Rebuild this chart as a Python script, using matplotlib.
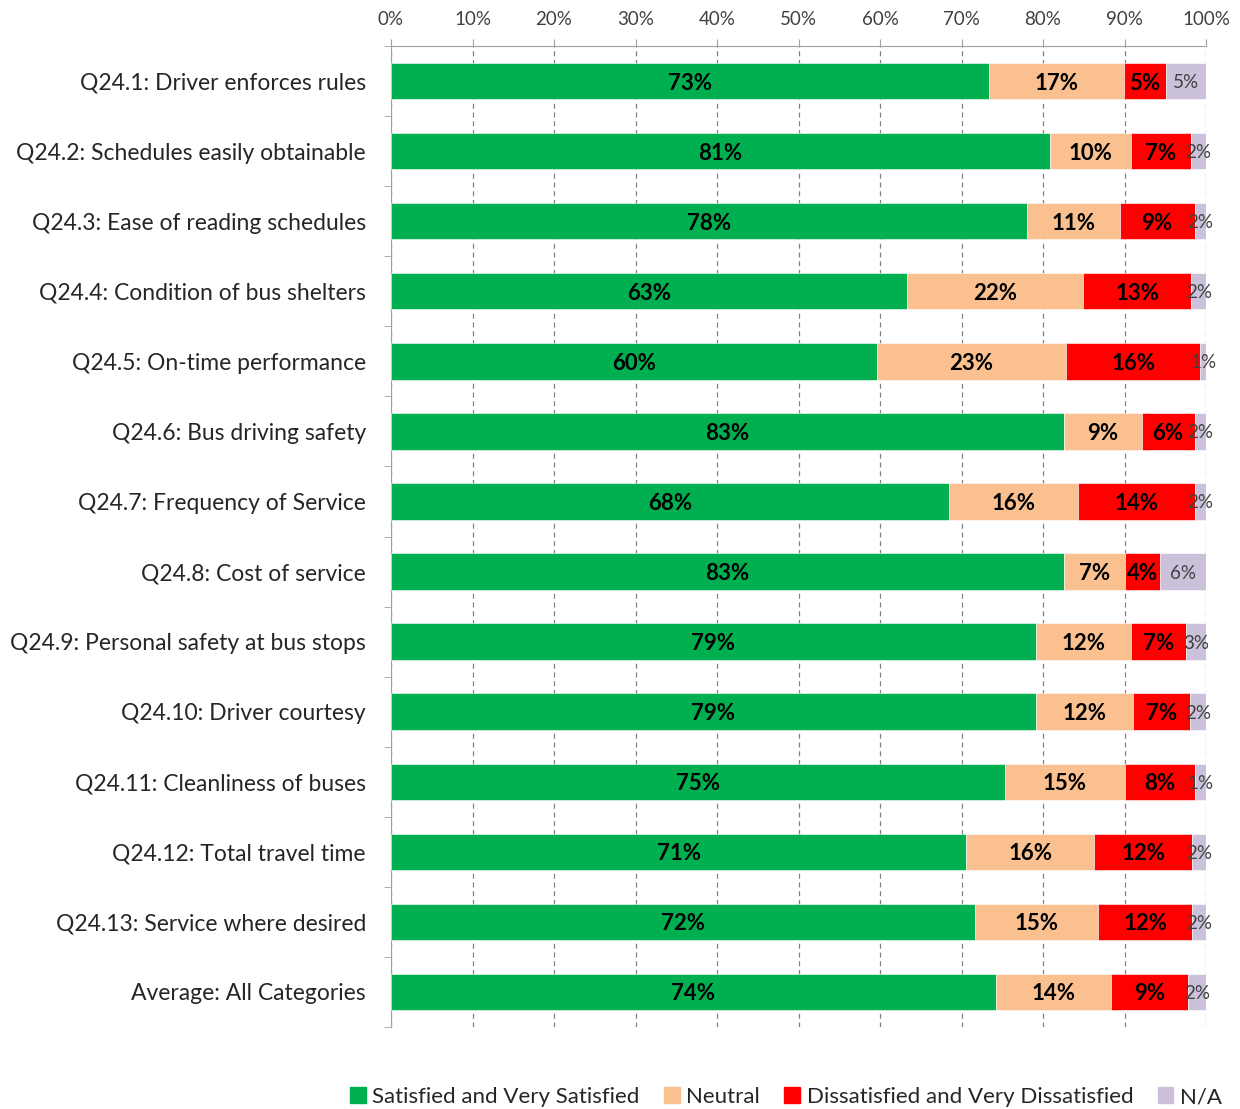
import numpy as np
import matplotlib
matplotlib.use("Agg")
import matplotlib.pyplot as plt
from matplotlib.ticker import MultipleLocator, FixedLocator, PercentFormatter
from matplotlib.patches import Patch

plt.rcParams['font.family'] = ['Lato', 'DejaVu Sans']

"""資料"""
categories = [
    "Q24.1: Driver enforces rules",
    "Q24.2: Schedules easily obtainable",
    "Q24.3: Ease of reading schedules",
    "Q24.4: Condition of bus shelters",
    "Q24.5: On-time performance",
    "Q24.6: Bus driving safety",
    "Q24.7: Frequency of Service",
    "Q24.8: Cost of service",
    "Q24.9: Personal safety at bus stops",
    "Q24.10: Driver courtesy",
    "Q24.11: Cleanliness of buses",
    "Q24.12: Total travel time",
    "Q24.13: Service where desired",
    "Average: All Categories",
]
series_names = ["Satisfied and Very Satisfied", "Neutral",
                "Dissatisfied and Very Dissatisfied", "N/A"]

# bar lengths (%)
satisfied    = [73.4, 80.9, 78.0, 63.3, 59.6, 82.6, 68.5, 82.6, 79.1, 79.1, 75.3, 70.6, 71.7, 74.2]
neutral      = [16.5,  9.9, 11.4, 21.6, 23.2,  9.5, 15.8,  7.5, 11.7, 11.9, 14.8, 15.7, 15.1, 14.2]
dissatisfied = [ 5.2,  7.3,  9.2, 13.3, 16.5,  6.5, 14.3,  4.2,  6.8,  7.0,  8.5, 12.0, 11.5,  9.4]
not_app      = [ 4.9,  1.9,  1.4,  1.8,  0.7,  1.4,  1.4,  5.7,  2.4,  2.0,  1.4,  1.7,  1.7,  2.2]

# printed labels
lab_satisfied    = [73, 81, 78, 63, 60, 83, 68, 83, 79, 79, 75, 71, 72, 74]
lab_neutral      = [17, 10, 11, 22, 23, 9, 16, 7, 12, 12, 15, 16, 15, 14]
lab_dissatisfied = [5, 7, 9, 13, 16, 6, 14, 4, 7, 7, 8, 12, 12, 9]
lab_na           = [5, 2, 2, 2, 1, 2, 2, 6, 3, 2, 1, 2, 2, 2]

colors = ['#00B050', '#FAC090', '#FF0000', '#CCC1DA']

fig = plt.figure(figsize=(12.4, 11.09), dpi=100)
ax = fig.add_axes([391/1240, 1 - 1027/1109, (1206-391)/1240, (1027-46)/1109])

y = np.arange(len(categories))
data = [satisfied, neutral, dissatisfied, not_app]
labels = [lab_satisfied, lab_neutral, lab_dissatisfied, lab_na]
left = np.zeros(len(categories))
for i, (vals, labs) in enumerate(zip(data, labels)):
    vals = np.array(vals)
    ax.barh(y, vals, left=left, height=0.52, color=colors[i],
            edgecolor='white', linewidth=0.4, zorder=3)
    for yy, l, v, t in zip(y, left, vals, labs):
        if i < 3:
            ax.text(l + v/2, yy, f"{t}%", ha='center', va='center_baseline',
                    fontsize=16, fontweight='bold', color='black', zorder=4)
        else:
            ax.text(l + v/2, yy, f"{t}%", ha='center', va='center_baseline',
                    fontsize=13.5, color='#404040', zorder=4)
    left += vals

ax.set_xlim(0, 100)
ax.set_ylim(len(categories) - 0.5, -0.5)
ax.xaxis.tick_top()
ax.xaxis.set_major_locator(MultipleLocator(10))
ax.xaxis.set_major_formatter(PercentFormatter(decimals=0))
ax.tick_params(axis='x', direction='out', length=5, color='#A0A0A0',
               labelsize=13.5, labelcolor='#404040', pad=8)
ax.set_yticks(y)
ax.set_yticklabels(categories, fontsize=16.5, color='#262626')
ax.tick_params(axis='y', which='major', length=0, pad=18)
ax.yaxis.set_minor_locator(FixedLocator(np.arange(-0.5, len(categories), 1)))
ax.tick_params(axis='y', which='minor', direction='out', length=5, color='#A0A0A0')
ax.grid(axis='x', linestyle=(0, (4, 3)), color='#808080', linewidth=0.9, zorder=0)

for s in ['right', 'bottom']:
    ax.spines[s].set_visible(False)
for s in ['top', 'left']:
    ax.spines[s].set_color('#A0A0A0')

handles = [Patch(color=c, label=n) for c, n in zip(colors, series_names)]
fig.legend(handles=handles, loc='center', bbox_to_anchor=(786/1240, 1 - 1097/1109),
           ncol=4, frameon=False, fontsize=16, handlelength=0.7, handleheight=0.7,
           handletextpad=0.3, columnspacing=1.1, labelcolor='#262626')

plt.savefig('out.png', dpi=100)
